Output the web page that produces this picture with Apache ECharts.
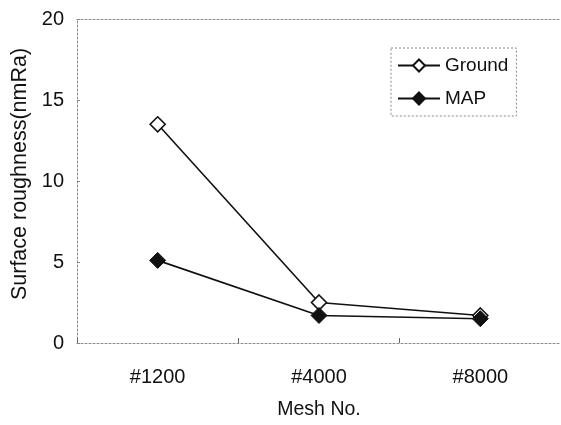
<!DOCTYPE html>
<html>
<head>
<meta charset="utf-8">
<script src="https://cdn.jsdelivr.net/npm/echarts@6/dist/echarts.min.js"></script>
<style>
  html, body { margin: 0; padding: 0; background: #fff; }
  #chart { width: 561px; height: 425px; }
</style>
</head>
<body>
<div id="chart"></div>
<script>
// data
const meshNo = ['#1200', '#4000', '#8000'];
const ground = [13.5, 2.5, 1.7];
const map = [5.1, 1.7, 1.5];

const font = 'Liberation Sans, Arial, sans-serif';
const dotted = { show: true, lineStyle: { color: '#888', type: [2, 2], width: 1 } };

const chart = echarts.init(document.getElementById('chart'));

const option = {
    animation: false,
    backgroundColor: '#fff',
    grid: { left: 77, top: 19, width: 488, height: 327 },
    legend: {
        left: 391,
        top: 48,
        orient: 'vertical',
        itemWidth: 42,
        itemHeight: 15,
        itemGap: 14,
        padding: [8, 8, 8, 6],
        borderColor: '#888',
        borderWidth: 1,
        borderType: [2, 2],
        textStyle: { fontFamily: font, fontSize: 19, color: '#111' },
        data: ['Ground', 'MAP'],
    },
    xAxis: [{
        type: 'category',
        data: meshNo,
        boundaryGap: true,
        name: 'Mesh No.',
        nameLocation: 'middle',
        nameGap: 57,
        nameTextStyle: { fontFamily: font, fontSize: 19.5, color: '#111' },
        axisLine: dotted,
        axisTick: { show: true, inside: true, length: 5, lineStyle: { color: '#666' } },
        axisLabel: { fontFamily: font, fontSize: 20, color: '#111', margin: 24 },
    }, {
        type: 'category',
        data: meshNo,
        position: 'top',
        axisLine: dotted,
        axisTick: { show: false },
        axisLabel: { show: false },
    }],
    yAxis: {
        type: 'value',
        min: 0,
        max: 20,
        interval: 5,
        name: 'Surface roughness(nmRa)',
        nameLocation: 'middle',
        nameGap: 46,
        nameTextStyle: { fontFamily: font, fontSize: 21.5, color: '#111', padding: [0, 0, 0, 14] },
        axisLine: dotted,
        axisTick: { show: true, inside: true, length: 3, lineStyle: { color: '#888' } },
        splitLine: { show: false },
        axisLabel: { fontFamily: font, fontSize: 20, color: '#111', margin: 13 },
    },
    series: [{
        name: 'Ground',
        type: 'line',
        data: ground,
        symbol: 'diamond',
        symbolSize: 15,
        itemStyle: { color: '#fff', borderColor: '#111', borderWidth: 1.6 },
        lineStyle: { color: '#111', width: 1.6 },
    }, {
        name: 'MAP',
        type: 'line',
        data: map,
        symbol: 'diamond',
        symbolSize: 16,
        itemStyle: { color: '#111', borderColor: '#111', borderWidth: 1 },
        lineStyle: { color: '#111', width: 1.6 },
    }],
};

chart.setOption(option);
</script>
</body>
</html>
